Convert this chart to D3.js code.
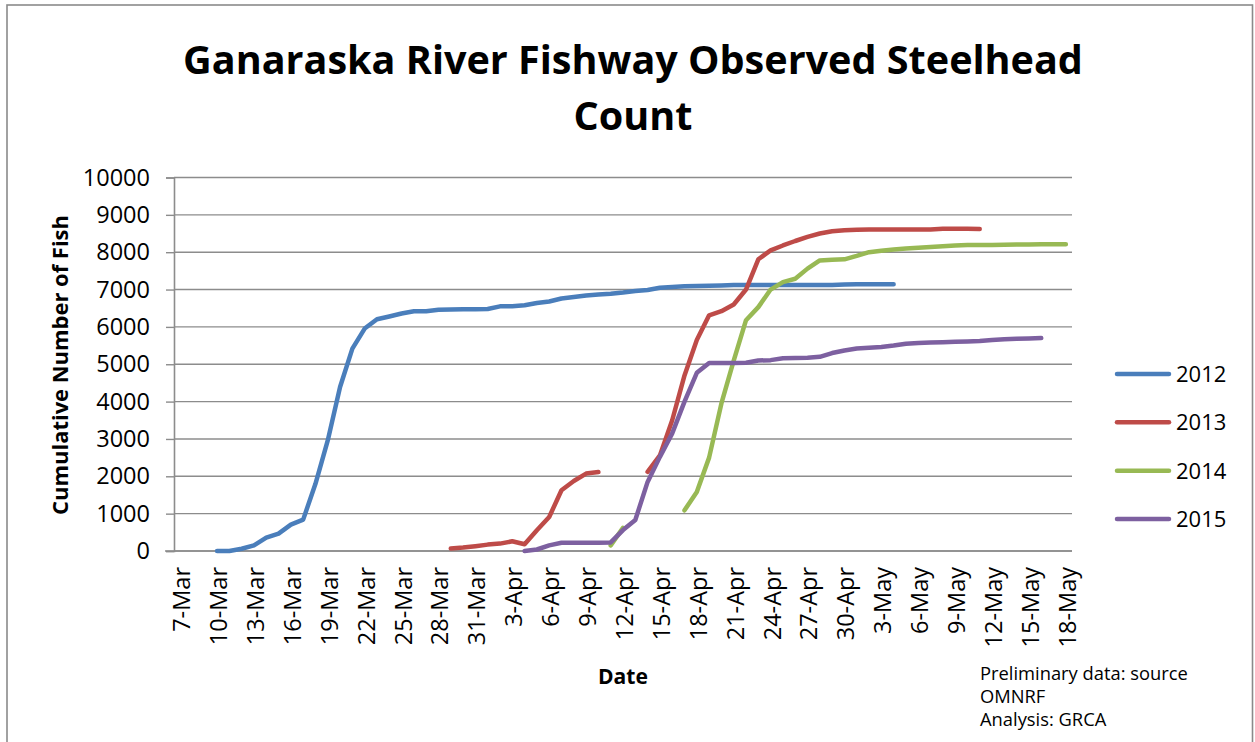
<!DOCTYPE html>
<html>
<head>
<meta charset="utf-8">
<script src="https://cdn.jsdelivr.net/npm/d3@7"></script>
<style>
  html, body { margin: 0; padding: 0; background: #fff; }
  svg { display: block; }
  text { font-family: "Open Sans", "Noto Sans", sans-serif; fill: #000; }
</style>
</head>
<body>
<svg id="chart" width="1255" height="742"></svg>
<script>
// ---------------- data ----------------
const titleLines = ["Ganaraska River Fishway Observed Steelhead", "Count"];
const yTitle = "Cumulative Number of Fish";
const xTitle = "Date";
const footnote = ["Preliminary data: source", "OMNRF", "Analysis: GRCA"];

const xTickLabels = ["7-Mar","10-Mar","13-Mar","16-Mar","19-Mar","22-Mar","25-Mar","28-Mar","31-Mar",
  "3-Apr","6-Apr","9-Apr","12-Apr","15-Apr","18-Apr","21-Apr","24-Apr","27-Apr","30-Apr",
  "3-May","6-May","9-May","12-May","15-May","18-May"];
const yTicks = [0,1000,2000,3000,4000,5000,6000,7000,8000,9000,10000];

const seriesNames = ["2012","2013","2014","2015"];
const seriesStarts = ["10-Mar","29-Mar","11-Apr","4-Apr"];

const values2012 = [0,0,60,150,360,465,706,840,1800,2960,4390,5420,5955,6205,6280,6360,6420,6420,
  6460,6465,6470,6475,6480,6550,6555,6580,6640,6680,6760,6800,6840,6870,6890,6920,6960,6990,7050,
  7070,7090,7095,7100,7110,7124,7124,7124,7124,7124,7124,7124,7124,7124,7135,7142,7142,7142,7142];
const values2013 = [64,91,130,171,198,260,180,554,910,1626,1875,2073,2116,null,null,null,
  2120,2560,3500,4700,5650,6310,6420,6600,7000,7810,8050,8180,8300,8410,8500,8560,8590,8600,8605,
  8610,8610,8610,8610,8610,8630,8630,8630,8620];
const values2014 = [150,620,null,null,null,null,1090,1580,2500,3950,5100,6180,6530,7000,7200,7290,
  7560,7780,7800,7810,7900,8000,8040,8070,8100,8120,8140,8160,8180,8190,8190,8195,8200,8205,8205,
  8210,8214,8214];
const values2015 = [0,40,150,220,220,220,220,230,560,830,1850,2520,3150,4000,4770,5035,5035,5035,
  5040,5100,5110,5160,5165,5175,5200,5300,5370,5420,5440,5460,5500,5550,5570,5580,5590,5600,5610,
  5620,5650,5670,5680,5690,5700];
const seriesValues = [values2012, values2013, values2014, values2015];
const seriesColors = ["#4A7EBB","#BE4B48","#98B954","#7D60A0"];

// ---------------- helpers ----------------
const parseDay = s => d3.utcParse("%d-%b-%Y")(s + "-2000");
const svg = d3.select("#chart");

function fitText(sel, target, startSize) {
  sel.style("font-size", startSize + "px");
  const len = sel.node().getComputedTextLength();
  const size = startSize * target / len;
  sel.style("font-size", size + "px");
  return size;
}

// ---------------- layout ----------------
const plot = { left: 174, right: 1072, top: 177.5, bottom: 551 };
const firstDay = parseDay(xTickLabels[0]);
const lastDay = parseDay(xTickLabels[xTickLabels.length - 1]);

const x = d3.scaleUtc()
  .domain([d3.utcHour.offset(firstDay, -12), d3.utcHour.offset(lastDay, 12)])
  .range([plot.left, plot.right]);
const y = d3.scaleLinear().domain([0, 10000]).range([plot.bottom, plot.top]);

// background + outer border
svg.append("rect").attr("width", 1255).attr("height", 742).attr("fill", "#fff");
svg.append("rect").attr("x", 7).attr("y", 5).attr("width", 1245.5).attr("height", 800)
  .attr("fill", "none").attr("stroke", "#8a8a8a").attr("stroke-width", 1.6);

// title
const t1 = svg.append("text").attr("x", 633).attr("y", 74).attr("text-anchor", "middle")
  .style("font-weight", "bold").text(titleLines[0]);
const tSize = fitText(t1, 900, 40);
svg.append("text").attr("x", 633).attr("y", 129.5).attr("text-anchor", "middle")
  .style("font-weight", "bold").style("font-size", tSize + "px").text(titleLines[1]);

// gridlines
svg.append("g").selectAll("line").data(yTicks).join("line")
  .attr("x1", plot.left).attr("x2", plot.right)
  .attr("y1", d => y(d)).attr("y2", d => y(d))
  .attr("stroke", "#8c8c8c").attr("stroke-width", 1.4);

// y axis
const yAxis = svg.append("g").attr("transform", `translate(${plot.left},0)`)
  .call(d3.axisLeft(y).tickValues(yTicks).tickSize(8).tickPadding(5).tickFormat(d3.format("d")));
yAxis.select(".domain").attr("stroke", "#8c8c8c").attr("stroke-width", 1.6);
yAxis.selectAll(".tick line").attr("stroke", "#8c8c8c").attr("stroke-width", 1.4);
yAxis.selectAll(".tick text").style("font-size", "23.5px")
  .style("font-family", '"Open Sans", sans-serif').attr("fill", "#000").attr("x", -24);

// x axis
const xTickDates = xTickLabels.map(parseDay);
const xAxis = svg.append("g").attr("transform", `translate(0,${plot.bottom})`)
  .call(d3.axisBottom(x).tickValues(xTickDates).tickSize(0).tickFormat((d, i) => xTickLabels[i]));
xAxis.select(".domain").attr("d", `M${plot.left - 9},0H${plot.right}`)
  .attr("stroke", "#8c8c8c").attr("stroke-width", 1.6);
xAxis.selectAll(".tick text")
  .style("font-size", "23.5px").style("font-family", '"Open Sans", sans-serif').attr("fill", "#000")
  .attr("text-anchor", "end")
  .attr("transform", "rotate(-90)")
  .attr("x", -16).attr("y", 1).attr("dy", "0.36em");

// axis titles
const yt = svg.append("text").attr("transform", "translate(68,365) rotate(-90)")
  .attr("text-anchor", "middle").style("font-weight", "bold").text(yTitle);
fitText(yt, 300, 20);
const xt = svg.append("text").attr("x", 623).attr("y", 684).attr("text-anchor", "middle")
  .style("font-weight", "bold").text(xTitle);
fitText(xt, 50, 20);

// series lines
const line = d3.line()
  .defined(d => d.v !== null)
  .x(d => x(d.date))
  .y(d => y(d.v));

seriesNames.forEach((name, si) => {
  const start = parseDay(seriesStarts[si]);
  const pts = seriesValues[si].map((v, i) => ({ date: d3.utcDay.offset(start, i), v }));
  svg.append("path").datum(pts)
    .attr("d", line)
    .attr("fill", "none")
    .attr("stroke", seriesColors[si])
    .attr("stroke-width", 4.5)
    .attr("stroke-linejoin", "round")
    .attr("stroke-linecap", "round");
});

// legend
const legendY = d3.scalePoint().domain(seriesNames).range([374, 519]);
const lg = svg.append("g");
seriesNames.forEach((name, si) => {
  const yy = legendY(name);
  lg.append("line").attr("x1", 1117).attr("x2", 1169).attr("y1", yy).attr("y2", yy)
    .attr("stroke", seriesColors[si]).attr("stroke-width", 4.5).attr("stroke-linecap", "round");
  lg.append("text").attr("x", 1176).attr("y", yy).attr("dy", "0.36em")
    .style("font-size", "22px").text(name);
});

// footnote
const fn = svg.append("g");
const fnBase = [680, 703, 726];
let fnSize = null;
footnote.forEach((s, i) => {
  const t = fn.append("text").attr("x", 980).attr("y", fnBase[i]).text(s);
  if (i === 0) fnSize = fitText(t, 208, 18);
  else t.style("font-size", fnSize + "px");
});
</script>
</body>
</html>
